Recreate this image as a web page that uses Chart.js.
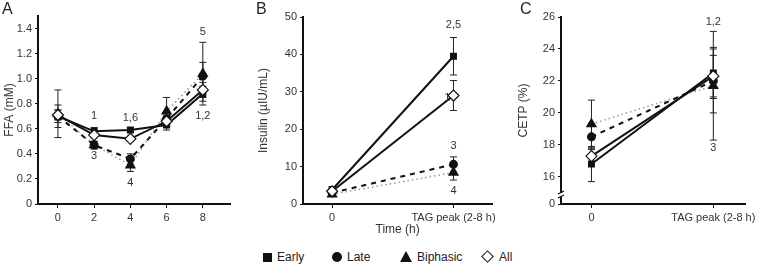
<!DOCTYPE html>
<html>
<head>
<meta charset="utf-8">
<script src="https://cdn.jsdelivr.net/npm/chart.js@4"></script>
<style>
  body { margin: 0; width: 758px; height: 266px; overflow: hidden; background: #fff; font-family: "Liberation Sans", Arial, sans-serif; }
  .panel { position: absolute; top: 0; }
  .letter { position: absolute; top: 0; font-size: 16px; color: #222; }
  #legend { position: absolute; top: 250px; left: 0; width: 758px; font-size: 12px; color: #222; }
  #legend span { position: absolute; top: 0; white-space: nowrap; }
  .sym { display: inline-block; vertical-align: -1px; margin-right: 5px; }
</style>
</head>
<body>
<div class="panel" style="left:0"><canvas id="chartA" width="250" height="240"></canvas></div>
<div class="panel" style="left:250px"><canvas id="chartB" width="250" height="240"></canvas></div>
<div class="panel" style="left:500px"><canvas id="chartC" width="262" height="240"></canvas></div>
<div class="letter" style="left:2px">A</div>
<div class="letter" style="left:256px">B</div>
<div class="letter" style="left:520px">C</div>
<div id="legend">
  <span style="left:263px"><i class="sym" style="width:9px;height:9px;background:#111"></i>Early</span>
  <span style="left:332px"><i class="sym" style="width:10px;height:10px;background:#111;border-radius:50%"></i>Late</span>
  <span style="left:400px"><i class="sym" style="width:0;height:0;border-left:6px solid transparent;border-right:6px solid transparent;border-bottom:11px solid #111"></i>Biphasic</span>
  <span style="left:481px"><i class="sym" style="width:7px;height:7px;border:1.3px solid #111;transform:rotate(45deg);margin-left:2px;margin-right:7px;vertical-align:0"></i>All</span>
</div>
<script>
// Panel A: FFA (mM) over time
const ffaTimes = [0, 2, 4, 6, 8];
const ffaEarly = [0.70, 0.58, 0.59, 0.63, 0.88];
const ffaLate = [0.70, 0.47, 0.36, 0.68, 1.02];
const ffaBiphasic = [0.72, 0.47, 0.31, 0.74, 1.04];
const ffaAll = [0.71, 0.55, 0.52, 0.66, 0.91];
const ffaEarlyErr = [0.05, 0.03, 0.02, 0.04, 0.06];
const ffaLateErr = [0.09, 0.03, 0.04, 0.05, 0.11];
const ffaBiphasicErr = [0.19, 0.03, 0.05, 0.11, 0.25];
const ffaAllErr = [0.04, 0.02, 0.02, 0.04, 0.06];
const ffaTicks = [0, 0.2, 0.4, 0.6, 0.8, 1.0, 1.2, 1.4];
const ffaNotes = [
  {x: 2, y: 0.70, text: '1'}, {x: 4, y: 0.69, text: '1,6'},
  {x: 2, y: 0.38, text: '3'}, {x: 4, y: 0.17, text: '4'},
  {x: 8, y: 1.37, text: '5'}, {x: 8, y: 0.70, text: '1,2'}
];

// Panel B: insulin, baseline vs TAG peak
const peakTimes = [0, 1];
const peakLabels = ['0', 'TAG peak (2-8 h)'];
const insEarly = [3.8, 39.5];
const insLate = [3.0, 10.6];
const insBiphasic = [2.6, 8.4];
const insAll = [3.4, 29.0];
const insEarlyErr = [0.8, 5.0];
const insLateErr = [0.6, 2.0];
const insBiphasicErr = [0.5, 2.0];
const insAllErr = [0.5, 4.0];
const insTicks = [0, 10, 20, 30, 40, 50];
const insNotes = [
  {x: 1, y: 47.9, text: '2,5'}, {x: 0.95, y: 28.3, text: '1'},
  {x: 1, y: 15.4, text: '3'}, {x: 1, y: 3.6, text: '4'}
];

// Panel C: CETP (%), broken axis (bottom tick is shown as 0)
const cetpEarly = [16.8, 22.5];
const cetpLate = [18.5, 22.0];
const cetpBiphasic = [19.3, 21.7];
const cetpAll = [17.3, 22.3];
const cetpEarlyErr = [1.1, 1.6];
const cetpLateErr = [0.8, 2.0];
const cetpBiphasicErr = [1.5, 3.4];
const cetpAllErr = [0.5, 1.3];
const cetpTicks = [16, 18, 20, 22, 24, 26];
const cetpNotes = [
  {x: 1, y: 25.7, text: '1,2'}, {x: 1, y: 17.8, text: '3'}
];

const font = {family: '"Liberation Sans", Arial, sans-serif', size: 11};
const textColor = '#333';

function series(xs, ys) {
  return xs.map((x, i) => ({x: x, y: ys[i]}));
}

function makeDatasets(xs, early, late, biphasic, all, errs) {
  return [
    {label: 'Early', data: series(xs, early), err: errs[0], borderColor: '#111', borderWidth: 2,
      pointStyle: 'rect', pointRadius: 3.5, backgroundColor: '#111', pointBorderColor: '#111', order: 2},
    {label: 'Late', data: series(xs, late), err: errs[1], borderColor: '#111', borderWidth: 2, borderDash: [5, 5],
      pointStyle: 'circle', pointRadius: 3.5, backgroundColor: '#111', pointBorderColor: '#111', order: 3},
    {label: 'Biphasic', data: series(xs, biphasic), err: errs[2], borderColor: '#999', borderWidth: 1.5, borderDash: [1.5, 3],
      pointStyle: 'triangle', pointRadius: 5, backgroundColor: '#111', pointBorderColor: '#111', order: 4},
    {label: 'All', data: series(xs, all), err: errs[3], borderColor: '#111', borderWidth: 2,
      pointStyle: 'rectRot', pointRadius: 5.5, backgroundColor: '#fff', pointBorderColor: '#111', pointBorderWidth: 1.2, order: 1}
  ];
}

// error bars, drawn under the markers
const errorBars = {
  id: 'errorBars',
  beforeDatasetsDraw(chart) {
    const ctx = chart.ctx;
    const xs = chart.scales.x, ys = chart.scales.y;
    ctx.save();
    ctx.strokeStyle = '#222';
    ctx.lineWidth = 1;
    chart.data.datasets.forEach(ds => {
      ds.data.forEach((p, i) => {
        const e = ds.err[i];
        const px = xs.getPixelForValue(p.x);
        const top = ys.getPixelForValue(p.y + e);
        const bot = ys.getPixelForValue(p.y - e);
        ctx.beginPath();
        ctx.moveTo(px, top); ctx.lineTo(px, bot);
        ctx.moveTo(px - 3.5, top); ctx.lineTo(px + 3.5, top);
        ctx.moveTo(px - 3.5, bot); ctx.lineTo(px + 3.5, bot);
        ctx.stroke();
      });
    });
    ctx.restore();
  }
};

function notesPlugin(notes) {
  return {
    id: 'notes',
    afterDatasetsDraw(chart) {
      const ctx = chart.ctx;
      ctx.save();
      ctx.fillStyle = textColor;
      ctx.font = '11px "Liberation Sans", Arial, sans-serif';
      ctx.textAlign = 'center';
      ctx.textBaseline = 'middle';
      notes.forEach(n => {
        ctx.fillText(n.text, chart.scales.x.getPixelForValue(n.x), chart.scales.y.getPixelForValue(n.y));
      });
      ctx.restore();
    }
  };
}

// slashes marking the break in the CETP axis
const axisBreak = {
  id: 'axisBreak',
  afterDraw(chart) {
    const ctx = chart.ctx;
    const x = chart.chartArea.left;
    const y = chart.chartArea.bottom - 9;
    ctx.save();
    ctx.fillStyle = '#fff';
    ctx.fillRect(x - 1.5, y - 2, 3, 4);
    ctx.strokeStyle = '#111';
    ctx.lineWidth = 1.3;
    ctx.beginPath();
    ctx.moveTo(x - 3, y - 1); ctx.lineTo(x + 3, y - 4);
    ctx.moveTo(x - 3, y + 3); ctx.lineTo(x + 3, y);
    ctx.stroke();
    ctx.restore();
  }
};

function makeChart(id, cfg) {
  const xTicks = cfg.xTicks;
  const yTicks = cfg.yTicks;
  return new Chart(document.getElementById(id), {
    type: 'line',
    data: {datasets: cfg.datasets},
    plugins: cfg.plugins,
    options: {
      responsive: false,
      animation: false,
      layout: {padding: cfg.padding},
      plugins: {legend: {display: false}, tooltip: {enabled: false}},
      scales: {
        x: {
          type: 'linear',
          min: cfg.xMin, max: cfg.xMax,
          afterBuildTicks: s => { s.ticks = xTicks.map(v => ({value: v})); },
          afterFit: s => { s.height = 36; },
          border: {display: true, color: '#111', width: 2},
          grid: {drawOnChartArea: false, drawTicks: true, tickLength: 4, color: '#111'},
          ticks: {font: font, color: textColor, padding: 3, maxRotation: 0, autoSkip: false,
            callback: cfg.xLabel},
          title: cfg.xTitle ? {display: true, text: cfg.xTitle, font: {family: font.family, size: 12}, color: textColor, padding: {top: 0, bottom: 3}} : {display: false}
        },
        y: {
          min: cfg.yMin, max: cfg.yMax,
          afterBuildTicks: s => { s.ticks = yTicks.map(v => ({value: v})); },
          afterFit: s => { s.width = cfg.yWidth; },
          border: {display: true, color: '#111', width: 2},
          grid: {drawOnChartArea: false, drawTicks: true, tickLength: 3, color: '#111'},
          ticks: {font: font, color: textColor, padding: 3, autoSkip: false, callback: cfg.yLabel},
          title: {display: true, text: cfg.yTitle, font: {family: font.family, size: 12}, color: textColor, padding: {top: 2, bottom: 2}}
        }
      }
    }
  });
}

makeChart('chartA', {
  datasets: makeDatasets(ffaTimes, ffaEarly, ffaLate, ffaBiphasic, ffaAll,
    [ffaEarlyErr, ffaLateErr, ffaBiphasicErr, ffaAllErr]),
  plugins: [errorBars, notesPlugin(ffaNotes)],
  padding: {left: 0, right: 20, top: 16, bottom: 0},
  xMin: -1.1, xMax: 9.5, xTicks: ffaTimes, xLabel: v => String(v),
  yMin: 0, yMax: 1.5, yTicks: ffaTicks, yWidth: 38,
  yLabel: v => v === 0 ? '0' : v.toFixed(1),
  yTitle: 'FFA (mM)'
});

makeChart('chartB', {
  datasets: makeDatasets(peakTimes, insEarly, insLate, insBiphasic, insAll,
    [insEarlyErr, insLateErr, insBiphasicErr, insAllErr]),
  plugins: [errorBars, notesPlugin(insNotes)],
  padding: {left: 4, right: 7, top: 17, bottom: 0},
  xMin: -0.24, xMax: 1.32, xTicks: peakTimes, xLabel: v => peakLabels[peakTimes.indexOf(v)],
  xTitle: 'Time (h)',
  yMin: 0, yMax: 50, yTicks: insTicks, yWidth: 49,
  yLabel: v => String(v),
  yTitle: 'Insulin (\u00b5IU/mL)'
});

const cetpMin = 14.3;
makeChart('chartC', {
  datasets: makeDatasets(peakTimes, cetpEarly, cetpLate, cetpBiphasic, cetpAll,
    [cetpEarlyErr, cetpLateErr, cetpBiphasicErr, cetpAllErr]),
  plugins: [errorBars, notesPlugin(cetpNotes), axisBreak],
  padding: {left: 14, right: 17, top: 17, bottom: 0},
  xMin: -0.25, xMax: 1.26, xTicks: peakTimes, xLabel: v => peakLabels[peakTimes.indexOf(v)],
  yMin: cetpMin, yMax: 26, yTicks: [cetpMin].concat(cetpTicks), yWidth: 47,
  yLabel: v => v === cetpMin ? '0' : String(v),
  yTitle: 'CETP (%)'
});
</script>
</body>
</html>
